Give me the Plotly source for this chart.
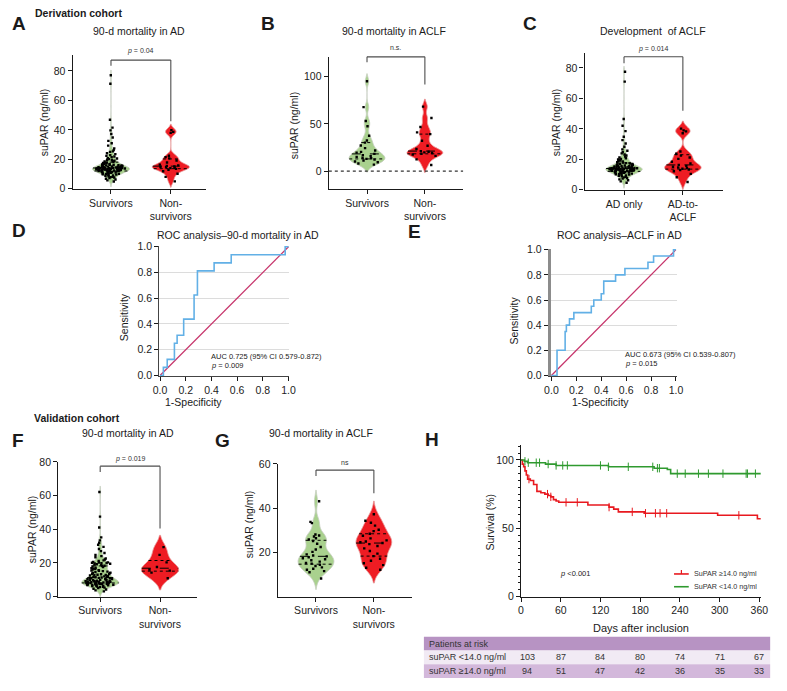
import numpy as np
import plotly.graph_objects as go

# ------------------------------------------------------------------ data
cat_ad = ["Survivors", "Non-<br>survivors"]
cat_c = ["AD only", "AD-to-<br>ACLF"]

a_surv = [77.0, 71.2, 46.8, 41.5, 39.6, 37.2, 34.8, 32.5, 30.9, 29.3, 27.4, 26.2, 25.4, 25.0, 24.1,
          23.5, 22.8, 22.3, 21.9, 21.4, 20.8, 20.5, 20.1, 19.7, 19.4, 19.0, 18.7, 18.5, 18.2, 17.9,
          17.6, 17.4, 17.2, 16.9, 16.7, 16.5, 16.3, 16.1, 15.9, 15.8, 15.6, 15.4, 15.3, 15.1, 15.0,
          14.9, 14.8, 14.6, 14.5, 14.4, 14.3, 14.2, 14.1, 14.0, 13.9, 13.8, 13.7, 13.6, 13.5, 13.4,
          13.3, 13.2, 13.1, 13.0, 12.9, 12.8, 12.7, 12.6, 12.5, 12.4, 12.3, 12.2, 12.1, 12.0, 11.9,
          11.8, 11.6, 11.5, 11.3, 11.2, 11.0, 10.9, 10.7, 10.5, 10.4, 10.2, 10.0, 9.8, 9.6, 9.3,
          9.0, 8.8, 8.5, 8.2, 7.9, 7.6, 7.2, 6.8, 6.3, 5.7, 4.9, 13.6, 13.2, 14.4, 12.8, 13.9, 14.7,
          12.4, 15.2, 13.3, 11.7, 16.0, 14.1, 12.9, 13.5]
a_non = [39.8, 38.6, 37.9, 22.4, 21.5, 20.6, 19.2, 17.8, 16.4, 15.9, 15.5, 15.2, 14.9, 14.6, 14.3,
         14.0, 13.5, 12.8, 11.9, 10.2, 8.1, 5.0]

b_surv = [95.2, 67.8, 53.1, 47.6, 37.4, 32.5, 30.2, 27.1, 24.3, 21.8, 20.4, 19.6, 18.2, 16.9, 15.8,
          15.1, 14.2, 13.6, 12.9, 12.1, 11.2, 10.1, 9.3, 8.0, 6.9]
b_non = [68.3, 56.2, 46.8, 41.0, 39.2, 32.1, 26.9, 23.4, 21.2, 20.5, 19.8, 19.1, 18.3, 17.6, 16.1,
         12.4, 6.5]

c_adonly = [77.5, 71.0, 46.5, 42.0, 38.5, 34.8, 32.6, 30.4, 28.2, 26.5, 25.6, 24.7, 23.9, 23.1, 22.5,
            21.8, 21.2, 20.7, 20.3, 19.9, 19.5, 19.2, 18.8, 18.5, 18.1, 17.8, 17.5, 17.2, 16.9, 16.6,
            16.4, 16.1, 15.9, 15.7, 15.5, 15.3, 15.1, 14.9, 14.8, 14.6, 14.5, 14.3, 14.2, 14.1, 14.0,
            13.9, 13.8, 13.7, 13.6, 13.5, 13.4, 13.3, 13.2, 13.1, 13.0, 12.9, 12.8, 12.7, 12.6, 12.5,
            12.4, 12.3, 12.2, 12.0, 11.9, 11.7, 11.6, 11.4, 11.2, 11.0, 10.8, 10.6, 10.4, 10.2, 10.0,
            9.7, 9.4, 9.1, 8.8, 8.5, 8.1, 7.7, 7.3, 6.8, 6.2, 5.5, 4.6, 13.7, 14.4, 12.9, 13.3, 14.8,
            15.4, 12.1, 11.5, 13.8, 14.2, 16.2, 12.7, 13.1, 17.1, 10.9, 14.6, 13.5]
c_aclf = [40.1, 39.0, 38.3, 37.1, 25.1, 23.6, 22.4, 21.2, 20.3, 18.4, 17.2, 16.3, 15.7, 15.1, 14.6,
          14.2, 13.8, 13.3, 12.9, 12.1, 10.4, 8.2, 5.1]

f_surv = [62.1, 47.5, 41.0, 35.2, 33.4, 32.0, 30.8, 29.5, 28.3, 27.0, 25.9, 24.8, 24.0, 23.4, 22.6,
          22.0, 21.5, 21.1, 20.6, 20.3, 20.1, 19.9, 19.7, 19.5, 19.2, 19.0, 18.7, 18.3, 17.9, 17.5,
          17.1, 16.8, 16.4, 16.0, 15.7, 15.4, 15.1, 14.8, 14.5, 14.2, 13.9, 13.6, 13.3, 13.0, 12.8,
          12.5, 12.2, 12.0, 11.8, 11.5, 11.3, 11.1, 10.9, 10.7, 10.5, 10.3, 10.1, 9.9, 9.8, 9.6,
          9.4, 9.3, 9.1, 9.0, 8.9, 8.8, 8.7, 8.6, 8.5, 8.4, 8.3, 8.2, 8.1, 8.0, 7.9, 7.8, 7.7, 7.6,
          7.5, 7.4, 7.3, 7.2, 7.1, 7.0, 6.9, 6.8, 6.6, 6.4, 6.2, 6.0, 5.8, 5.6, 5.3, 5.0, 4.6, 4.2,
          3.7, 3.1, 8.4, 7.9, 8.8, 9.2, 7.6, 8.1, 10.4, 11.6, 12.7, 14.1, 15.3, 16.6, 18.1, 19.8,
          20.2, 8.6, 7.4, 9.7, 6.7, 10.8, 13.4]
f_non = [29.4, 24.8, 20.3, 17.6, 16.1, 15.4, 14.2, 10.9]

g_surv = [43.1, 33.8, 33.2, 28.1, 27.6, 27.2, 26.4, 25.8, 25.1, 23.9, 22.4, 21.3, 20.2, 19.1, 18.6,
          18.2, 17.8, 17.3, 16.9, 16.4, 15.8, 15.2, 14.9, 14.4, 13.8, 13.2, 12.6, 12.1, 11.5, 11.0, 8.2]
g_non = [37.2, 34.3, 33.4, 32.1, 30.2, 29.6, 28.4, 27.5, 26.3, 25.4, 24.9, 24.6, 24.2, 23.7, 22.9,
         21.8, 20.6, 19.4, 18.3, 17.1, 16.2, 15.1, 14.2, 13.0, 12.1]

roc_d_fpr = [0, 0.026, 0.056, 0.112, 0.133, 0.184, 0.265, 0.291, 0.421, 0.554, 0.974, 1.0]
roc_d_tpr = [0, 0.0625, 0.125, 0.25, 0.3125, 0.4375, 0.625, 0.8125, 0.875, 0.9375, 1.0, 1.0]
roc_e_fpr = [0, 0.045, 0.11, 0.12, 0.145, 0.18, 0.32, 0.34, 0.40, 0.42, 0.515, 0.59, 0.775, 0.82, 0.98, 1.0]
roc_e_tpr = [0, 0.20, 0.35, 0.40, 0.45, 0.50, 0.55, 0.60, 0.65, 0.75, 0.80, 0.85, 0.90, 0.95, 1.0, 1.0]
diag = [0, 1]

km_low_days = [0, 5, 10, 37, 53, 132, 201, 221, 226, 365]
km_low_surv = [100, 99, 98, 97, 96, 95, 94, 93, 90, 90]
km_high_days = [0, 2, 4, 6, 8, 10, 14, 19, 24, 30, 36, 41, 45, 49, 53, 57, 101, 133, 140, 147, 186, 297, 357, 365]
km_high_surv = [100, 97, 95, 92, 89, 86, 85, 82, 77, 76, 75, 74, 73, 71, 70, 69, 67, 65.5, 64, 62, 61, 59.5, 57, 57]
cens_low_days = [6, 11, 23, 28, 41, 53, 63, 70, 120, 132, 162, 199, 206, 209, 236, 248, 268, 283, 305, 340, 342, 354]
cens_high_days = [12, 40, 45, 68, 85, 133, 168, 188, 203, 210, 220, 329]

risk_days = [0, 60, 120, 180, 240, 300, 360]
risk_low = [103, 87, 84, 80, 74, 71, 67]
risk_high = [94, 51, 47, 42, 36, 35, 33]

# ------------------------------------------------------------------ layout helpers
W, H = 787, 691
FONT = "Liberation Sans, Arial, sans-serif"
GREEN_FILL = "#a9d18e"
RED_FILL = "#ee1c23"

P = {
    'A': dict(ids=('x', 'y'), xp=(106, 167), xv=(0, 1), xr=(-0.64, 1.59), yp=(186, 66), yv=(0, 80), yr=(0, 90.7)),
    'B': dict(ids=('x2', 'y2'), xp=(367, 426), xv=(0, 1), xr=(-0.66, 1.66), yp=(168, 72), yv=(0, 100), yr=(-18.75, 120.8)),
    'C': dict(ids=('x3', 'y3'), xp=(629, 689), xv=(0, 1), xr=(-0.67, 1.68), yp=(187, 63), yv=(0, 80), yr=(0, 89.7)),
    'D': dict(ids=('x4', 'y4'), xp=(156, 287), xv=(0, 1), xr=(-0.005, 1.005), yp=(376, 245), yv=(0, 1), yr=(-0.005, 1.005)),
    'E': dict(ids=('x5', 'y5'), xp=(555, 682), xv=(0, 1), xr=(-0.005, 1.005), yp=(376, 248), yv=(0, 1), yr=(-0.005, 1.005)),
    'F': dict(ids=('x6', 'y6'), xp=(95, 156), xv=(0, 1), xr=(-0.70, 1.61), yp=(601, 464), yv=(0, 80), yr=(0, 80)),
    'G': dict(ids=('x7', 'y7'), xp=(315, 374), xv=(0, 1), xr=(-0.66, 1.66), yp=(601, 466), yv=(0, 60), yr=(0, 60)),
    'H': dict(ids=('x8', 'y8'), xp=(524, 767), xv=(0, 360), xr=(0, 362), yp=(601, 462), yv=(0, 100), yr=(0, 110.8)),
}


def to_paper(p, xv=None, yv=None):
    d = P[p]
    out = []
    if xv is not None:
        sx = (d['xp'][1] - d['xp'][0]) / (d['xv'][1] - d['xv'][0])
        out.append((d['xp'][0] + (xv - d['xv'][0]) * sx) / W)
    if yv is not None:
        sy = (d['yp'][0] - d['yp'][1]) / (d['yv'][1] - d['yv'][0])
        out.append(1 - (d['yp'][0] - (yv - d['yv'][0]) * sy) / H)
    return out if len(out) > 1 else out[0]


def akey(i):
    return ('xaxis' if i[0] == 'x' else 'yaxis') + i[1:]


fig = go.Figure()
layout = {}
base_axis = dict(showline=True, linecolor='#1a1a1a', linewidth=1.3, ticks='outside', ticklen=4,
                 tickwidth=1, tickcolor='#1a1a1a', showgrid=False, zeroline=False,
                 tickfont=dict(size=10.5, color='#222', family=FONT), fixedrange=True)

for p, d in P.items():
    xa, ya = d['ids']
    xdom = [to_paper(p, xv=d['xr'][0]), to_paper(p, xv=d['xr'][1])]
    ydom = [to_paper(p, yv=d['yr'][0]), to_paper(p, yv=d['yr'][1])]
    layout[akey(xa)] = dict(base_axis, domain=xdom, range=list(d['xr']), anchor=ya, type='linear')
    layout[akey(ya)] = dict(base_axis, domain=ydom, range=list(d['yr']), anchor=xa, type='linear')

for p, cats in [('A', cat_ad), ('B', cat_ad), ('C', cat_c), ('F', cat_ad), ('G', cat_ad)]:
    layout[akey(P[p]['ids'][0])].update(tickvals=[0, 1], ticktext=cats)
layout[akey(P['A']['ids'][1])].update(tickvals=[0, 20, 40, 60, 80])
layout[akey(P['B']['ids'][1])].update(tickvals=[0, 50, 100])
layout[akey(P['C']['ids'][1])].update(tickvals=[0, 20, 40, 60, 80])
layout[akey(P['F']['ids'][1])].update(tickvals=[0, 20, 40, 60, 80])
layout[akey(P['G']['ids'][1])].update(tickvals=[20, 40, 60])
for p in ['D', 'E']:
    xa, ya = P[p]['ids']
    layout[akey(xa)].update(tickvals=[0, 0.2, 0.4, 0.6, 0.8, 1.0], tickformat='.1f', linecolor='#444')
    layout[akey(ya)].update(tickvals=[0, 0.2, 0.4, 0.6, 0.8, 1.0], tickformat='.1f', showgrid=True,
                            gridcolor='#dcdcdc', gridwidth=1, linecolor='#444')
layout[akey(P['E']['ids'][1])].update(linecolor='#8c8c8c', linewidth=3)
layout[akey(P['H']['ids'][0])].update(tickvals=risk_days)
layout[akey(P['H']['ids'][1])].update(tickvals=[0, 50, 100],
                                       minor=dict(ticks='outside', ticklen=2, dtick=5, tickcolor='#1a1a1a'))

# ------------------------------------------------------------------ violins
VW = 0.62


def add_violin(p, data, xpos, fill, bw, edge):
    xa, ya = P[p]['ids']
    fig.add_trace(go.Violin(
        y=data, x0=xpos, xaxis=xa, yaxis=ya, width=VW, fillcolor=fill,
        line=dict(color=edge, width=0.8), points='all', pointpos=0, jitter=0.8,
        marker=dict(size=2.4, color='black', symbol='square', line=dict(width=0)),
        bandwidth=bw, spanmode='soft', scalemode='width', showlegend=False, hoverinfo='skip'))
    arr = np.asarray(data, dtype=float)
    q1, med, q3 = np.percentile(arr, [25, 50, 75])
    grid = np.linspace(arr.min() - 2 * bw, arr.max() + 2 * bw, 600)
    kde = np.exp(-0.5 * ((grid[:, None] - arr[None, :]) / bw) ** 2).sum(axis=1)
    for v, dash in [(q1, 'dot'), (med, 'dash'), (q3, 'dot')]:
        h = VW / 2 * np.interp(v, grid, kde) / kde.max()
        fig.add_trace(go.Scatter(x=[xpos - h, xpos + h], y=[v, v], xaxis=xa, yaxis=ya, mode='lines',
                                 line=dict(color='black', width=1, dash=dash), showlegend=False,
                                 hoverinfo='skip'))


G_EDGE, R_EDGE = '#c9cfc4', '#e9a0a0'
add_violin('A', a_surv, 0, GREEN_FILL, 1.8, G_EDGE)
add_violin('A', a_non, 1, RED_FILL, 2.0, R_EDGE)
add_violin('B', b_surv, 0, GREEN_FILL, 4.0, G_EDGE)
add_violin('B', b_non, 1, RED_FILL, 4.0, R_EDGE)
add_violin('C', c_adonly, 0, GREEN_FILL, 1.8, G_EDGE)
add_violin('C', c_aclf, 1, RED_FILL, 2.5, R_EDGE)
add_violin('F', f_surv, 0, GREEN_FILL, 1.8, G_EDGE)
add_violin('F', f_non, 1, RED_FILL, 3.5, R_EDGE)
add_violin('G', g_surv, 0, GREEN_FILL, 2.5, G_EDGE)
add_violin('G', g_non, 1, RED_FILL, 3.0, R_EDGE)

# ------------------------------------------------------------------ ROC
for p, fx, ty in [('D', roc_d_fpr, roc_d_tpr), ('E', roc_e_fpr, roc_e_tpr)]:
    xa, ya = P[p]['ids']
    fig.add_trace(go.Scatter(x=diag, y=diag, xaxis=xa, yaxis=ya, mode='lines',
                             line=dict(color='#c6336a', width=1.2), showlegend=False, hoverinfo='skip'))
    fig.add_trace(go.Scatter(x=fx, y=ty, xaxis=xa, yaxis=ya, mode='lines', line_shape='hv',
                             line=dict(color='#62b0e6', width=1.6), showlegend=False, hoverinfo='skip'))

# ------------------------------------------------------------------ Kaplan-Meier
xa, ya = P['H']['ids']


def step_at(days, surv, pts):
    idx = np.searchsorted(np.asarray(days), np.asarray(pts), side='right') - 1
    return [surv[i] for i in idx]


RED_KM, GREEN_KM = '#e8191f', '#2f9a2f'
fig.add_trace(go.Scatter(x=km_high_days, y=km_high_surv, xaxis=xa, yaxis=ya, mode='lines', line_shape='hv',
                         line=dict(color=RED_KM, width=1.6), name='SuPAR ≥14.0 ng/ml', hoverinfo='skip',
                         showlegend=False))
fig.add_trace(go.Scatter(x=km_low_days, y=km_low_surv, xaxis=xa, yaxis=ya, mode='lines', line_shape='hv',
                         line=dict(color=GREEN_KM, width=1.6), name='SuPAR <14.0 ng/ml', hoverinfo='skip',
                         showlegend=False))
fig.add_trace(go.Scatter(x=cens_high_days, y=step_at(km_high_days, km_high_surv, cens_high_days),
                         xaxis=xa, yaxis=ya, mode='markers', showlegend=False, hoverinfo='skip',
                         marker=dict(symbol='line-ns', size=6, line=dict(color=RED_KM, width=1))))
fig.add_trace(go.Scatter(x=cens_low_days, y=step_at(km_low_days, km_low_surv, cens_low_days),
                         xaxis=xa, yaxis=ya, mode='markers', showlegend=False, hoverinfo='skip',
                         marker=dict(symbol='line-ns', size=6, line=dict(color=GREEN_KM, width=1))))

# ------------------------------------------------------------------ annotations
ann = []
shapes = []


def text(x, y, s, size=10.5, bold=False, xanchor='center', angle=0, color='#1a1a1a'):
    ann.append(dict(x=x / W, y=1 - y / H, xref='paper', yref='paper', text=s,
                    showarrow=False, xanchor=xanchor, yanchor='middle', textangle=angle,
                    font=dict(size=size, color=color, family=FONT, weight='bold' if bold else 'normal')))


for s, x, y in [('A', 12, 18), ('B', 266, 18), ('C', 533, 18), ('D', 12, 228), ('E', 415, 229),
                ('F', 11, 442), ('G', 220, 442), ('H', 433, 441)]:
    text(x, y, s, size=19, bold=True)
text(27, 7, 'Derivation cohort', size=10.5, bold=True, xanchor='left')
text(25, 419, 'Validation cohort', size=10.5, bold=True, xanchor='left')

for s, x, y in [('90-d mortality in AD', 135, 25), ('90-d mortality in ACLF', 395, 25),
                ('Development  of ACLF', 659, 25), ('ROC analysis–90-d mortality in AD', 235, 233),
                ('ROC analysis–ACLF in AD', 624, 233), ('90-d mortality in AD', 123, 435),
                ('90-d mortality in ACLF', 320, 435)]:
    text(x, y, s)

for x, y in [(38, 118), (292, 121), (560, 118), (25, 533), (247, 527)]:
    text(x, y, 'suPAR (ng/ml)', angle=-90)
text(120, 317, 'Sensitivity', angle=-90)
text(517, 320, 'Sensitivity', angle=-90)
text(190, 403, '1-Specificity')
text(605, 403, '1-Specificity')
text(492, 525, 'Survival (%)', angle=-90)
text(646, 633, 'Days after inclusion', size=11)

text(206, 357, 'AUC 0.725 (95% CI 0.579-0.872)', size=7.5, xanchor='left')
text(206, 366, '<i>p</i> = 0.009', size=7.5, xanchor='left')
text(628, 355, 'AUC 0.673 (95% CI 0.539-0.807)', size=7.5, xanchor='left')
text(628, 364, '<i>p</i> = 0.015', size=7.5, xanchor='left')
text(562, 578, '<i>p</i> &lt;0.001', size=7.5, xanchor='left')

# KM legend (line glyph + label)
for yk, col, lab, tick in [(578, RED_KM, 'SuPAR ≥14.0 ng/ml', True), (591, GREEN_KM, 'SuPAR <14.0 ng/ml', False)]:
    shapes.append(dict(type='line', xref='paper', yref='paper', x0=680 / W, x1=695 / W,
                       y0=1 - yk / H, y1=1 - yk / H, line=dict(color=col, width=1.6)))
    if tick:
        shapes.append(dict(type='line', xref='paper', yref='paper', x0=687.5 / W, x1=687.5 / W,
                           y0=1 - yk / H, y1=1 - (yk - 4) / H, line=dict(color=col, width=1.2)))
    text(698, yk, lab, size=7.2, xanchor='left', color='#333')

brackets = [('A', 83.5, 87.3, 45.8, '<i>p</i> = 0.04', 93.5),
            ('B', 115.3, 121.1, 91.7, 'n.s.', 130.5),
            ('C', 83.0, 87.3, 51.8, '<i>p</i> = 0.014', 92.5),
            ('F', 74.0, 77.5, 40.5, '<i>p</i> = 0.019', 82.0),
            ('G', 54.5, 57.2, 46.7, 'ns', 60.6)]
for p, yl, yt, yr_, lab, ylab in brackets:
    x0, yl_p = to_paper(p, 0, yl)
    x1, yt_p = to_paper(p, 1, yt)
    yr_p = to_paper(p, yv=yr_)
    ln = dict(color='#4d4d4d', width=1.1)
    shapes.append(dict(type='line', xref='paper', yref='paper', x0=x0, x1=x0, y0=yl_p, y1=yt_p, line=ln))
    shapes.append(dict(type='line', xref='paper', yref='paper', x0=x0, x1=x1, y0=yt_p, y1=yt_p, line=ln))
    shapes.append(dict(type='line', xref='paper', yref='paper', x0=x1, x1=x1, y0=yt_p, y1=yr_p, line=ln))
    xm, ym = to_paper(p, 0.5, ylab)
    ann.append(dict(x=xm, y=ym, xref='paper', yref='paper', text=lab, showarrow=False,
                    xanchor='center', yanchor='middle', font=dict(size=7, color='#333', family=FONT)))

x0p, y0p = to_paper('B', P['B']['xr'][0], 0)
x1p = to_paper('B', xv=P['B']['xr'][1])
shapes.append(dict(type='line', xref='paper', yref='paper', x0=x0p, x1=x1p, y0=y0p, y1=y0p,
                   line=dict(color='#333', width=1.2, dash='dot')))

rows = [(642, 656, '#b793c3', 'Patients at risk', None),
        (656, 670, '#f1eaf4', 'suPAR <14.0 ng/ml', risk_low),
        (670, 684, '#d3b8db', 'suPAR ≥14.0 ng/ml', risk_high)]
for top, bot, col, lab, vals in rows:
    shapes.append(dict(type='rect', xref='paper', yref='paper', x0=425 / W, x1=778 / W,
                       y0=1 - bot / H, y1=1 - top / H, fillcolor=col, line=dict(width=0), layer='below'))
    yc = (top + bot) / 2
    text(428, yc, lab, size=9, xanchor='left', color='#333')
    if vals is not None:
        for i, (dday, v) in enumerate(zip(risk_days, vals)):
            ann.append(dict(x=dday, y=1 - yc / H, xref=P['H']['ids'][0], yref='paper', text=str(v),
                            showarrow=False, xanchor='center', yanchor='middle', xshift=6 if i == 0 else 0,
                            font=dict(size=9, color='#333', family=FONT)))

layout.update(width=W, height=H, margin=dict(l=0, r=0, t=0, b=0), plot_bgcolor='white',
              paper_bgcolor='white', annotations=ann, shapes=shapes, showlegend=False,
              font=dict(family=FONT, color='#1a1a1a'))
fig.update_layout(**layout)
fig.write_html("out.html")
